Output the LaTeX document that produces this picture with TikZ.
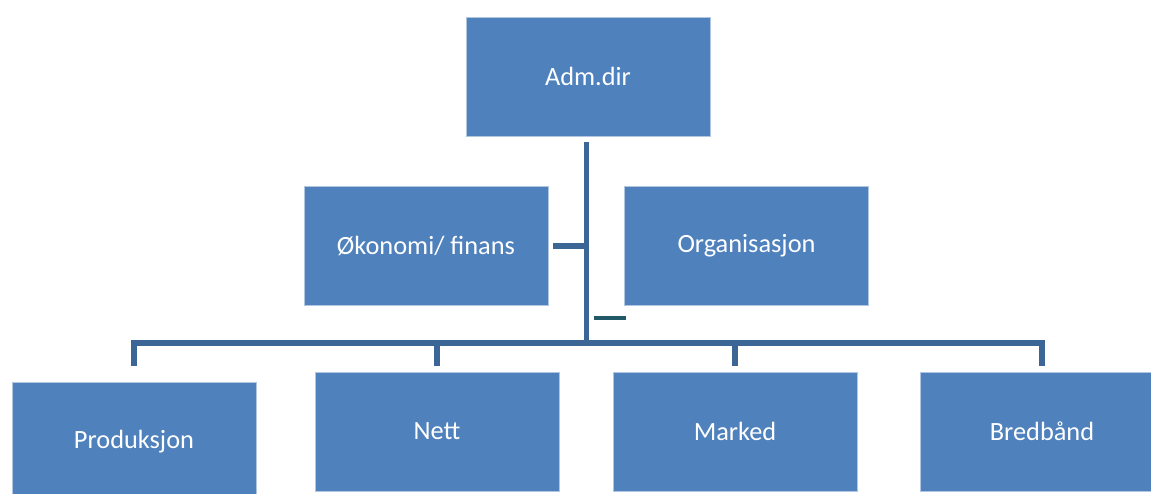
\documentclass[tikz,border=0pt]{standalone}
\usepackage{fontspec}
\setmainfont{Carlito}
\definecolor{boxblue}{HTML}{4F81BD}
\definecolor{lineblue}{HTML}{3C6696}
\definecolor{dashteal}{HTML}{215968}
\begin{document}
\begin{tikzpicture}[x=0.02cm, y=-0.02cm, font=\fontsize{15}{18}\selectfont, line join=miter,
		unit/.style={rectangle, fill=boxblue, draw=boxblue!45!white, line width=0.5pt, text=white,
			minimum width=4.88cm, minimum height=2.38cm, inner sep=0pt},
		orgline/.style={draw=lineblue, line width=3.3pt}]
	\useasboundingbox (0,0) rectangle (1151,493);
	\clip (0,0) rectangle (1151,493);
	% ledelse og stab
	\node[unit] (adm) at (588,76.5) {Adm.dir};
	\node[unit] (oko) at (426,246) {Økonomi/ finans};
	\node[unit] (org) at (746.5,246) {Organisasjon};
	% avdelinger
	\node[unit] (prod) at (134,441.5) {Produksjon};
	\node[unit] (nett) at (437,431.5) {Nett};
	\node[unit] (marked) at (735,431.5) {Marked};
	\node[unit] (bred) at (1042,431.5) {Bredbånd};
	\coordinate (hub) at (586.5,343);
	\coordinate (stab) at (586.5,246);
	\coordinate (mark) at (610,318);
	\draw[orgline, shorten <=0.12cm] (adm.south -| hub) -- (hub);
	\draw[orgline, shorten <=0.1cm] (oko.east) -- (stab);
	\draw[orgline, shorten >=0.32cm] (hub) -| (prod.north);
	\draw[orgline, shorten >=0.12cm] (hub) -| (nett.north);
	\draw[orgline, shorten >=0.12cm] (hub) -| (marked.north);
	\draw[orgline, shorten >=0.12cm] (hub) -| (bred.north);
	\draw[draw=dashteal, line width=2.8pt] ([xshift=-0.32cm]mark) -- ([xshift=0.32cm]mark);
\end{tikzpicture}
\end{document}
